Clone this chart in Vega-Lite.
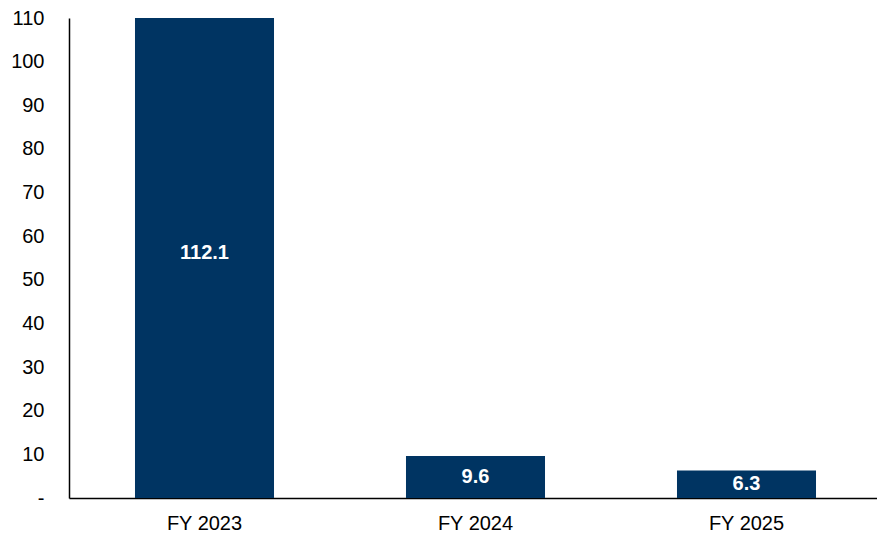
{
  "$schema": "https://vega.github.io/schema/vega-lite/v6.json",
  "autosize": {"type": "none"},
  "padding": {"left": 69, "top": 18, "right": 0, "bottom": 36},
  "width": 813,
  "height": 480,
  "background": "white",
  "config": {"view": {"stroke": null}, "font": "Liberation Sans"},
  "data": {"values": [
    {"year": "FY 2023", "value": 112.1},
    {"year": "FY 2024", "value": 9.6},
    {"year": "FY 2025", "value": 6.3}
  ]},
  "encoding": {
    "x": {"field": "year", "type": "nominal", "sort": null,
      "scale": {"paddingInner": 0.487, "paddingOuter": 0.2435},
      "axis": {"title": null, "labelAngle": 0, "labelFontSize": 20, "labelColor": "#000000", "ticks": false, "labelPadding": 15, "domainColor": "#000000", "domainWidth": 1.5, "grid": false}}
  },
  "layer": [
    {
      "mark": {"type": "bar", "color": "#003462", "clip": true},
      "encoding": {
        "y": {"field": "value", "type": "quantitative",
          "scale": {"domain": [0, 110], "nice": false},
          "axis": {"title": null, "values": [0,10,20,30,40,50,60,70,80,90,100,110], "labelExpr": "datum.value == 0 ? '-' : datum.label", "labelFontSize": 20, "labelColor": "#000000", "ticks": false, "labelPadding": 25, "domainColor": "#000000", "domainWidth": 1.5, "grid": false}}
      }
    },
    {
      "transform": [{"calculate": "datum.value / 2", "as": "mid"}],
      "mark": {"type": "text", "color": "white", "fontWeight": "bold", "fontSize": 20, "baseline": "middle"},
      "encoding": {
        "y": {"field": "mid", "type": "quantitative", "scale": {"domain": [0, 110], "nice": false}},
        "text": {"field": "value", "type": "quantitative", "format": ".1f"}
      }
    }
  ]
}
